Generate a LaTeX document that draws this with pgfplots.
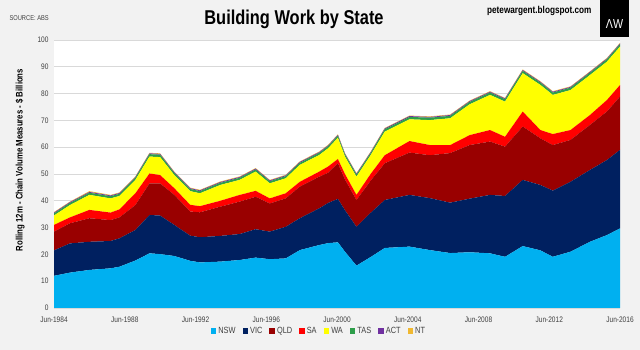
\documentclass[border=0pt]{standalone}
\usepackage{pgfplots}
\pgfplotsset{compat=1.18}
\usepackage{pgfplotstable}
\usepackage{fontspec}
\setmainfont{Liberation Sans}[FakeStretch=0.82]
\definecolor{bgc}{HTML}{F2F2F2}
\definecolor{nswc}{HTML}{00B0F0}
\definecolor{vicc}{HTML}{002060}
\definecolor{qldc}{HTML}{990000}
\definecolor{sac}{HTML}{FF0000}
\definecolor{wac}{HTML}{FFFF00}
\definecolor{tasc}{HTML}{2E9E4A}
\definecolor{actc}{HTML}{7030A0}
\definecolor{ntc}{HTML}{F0B830}
\definecolor{tickc}{HTML}{404040}
\pgfplotstableread{
year NSW VIC QLD SA WA TAS ACT NT
1984.5 12.0 9.5 7.0 2.5 3.5 0.8 0.3 0.2
1985.4 13.2 10.9 7.5 2.2 4.6 0.8 0.3 0.2
1986.5 14.2 10.5 8.8 3.1 5.6 0.8 0.3 0.3
1987.7 14.8 10.2 7.8 2.8 5.3 0.8 0.3 0.2
1988.2 15.4 10.6 7.8 3.0 5.0 0.8 0.3 0.2
1989.1 17.7 11.4 9.3 4.4 5.0 0.8 0.3 0.2
1989.9 20.4 14.3 11.8 3.7 6.3 0.9 0.3 0.2
1990.5 20.1 14.4 12.0 3.1 6.7 0.9 0.3 0.2
1991.3 19.4 11.6 11.2 2.5 4.9 0.8 0.3 0.2
1992.2 17.6 9.4 9.0 2.5 5.1 0.8 0.3 0.2
1992.75 17.0 9.4 9.3 2.3 4.8 0.8 0.3 0.2
1993.9 17.3 9.6 10.9 2.2 5.9 0.8 0.3 0.2
1995.0 17.9 9.7 12.1 2.5 5.6 0.8 0.3 0.2
1995.9 18.8 10.6 12.1 2.2 7.2 0.8 0.3 0.2
1996.7 18.2 10.3 10.5 1.9 5.6 0.8 0.3 0.2
1997.6 18.5 11.8 10.6 1.9 5.6 0.8 0.3 0.2
1998.4 21.6 11.9 11.8 1.8 6.3 0.8 0.3 0.2
1999.5 23.5 13.7 11.8 1.9 6.2 0.8 0.3 0.2
2000.0 24.2 15.0 11.3 2.3 6.8 0.8 0.3 0.2
2000.55 24.5 16.2 13.3 1.6 7.9 0.8 0.3 0.2
2000.95 21.0 15.5 11.5 2.0 6.5 0.8 0.3 0.2
2001.6 15.8 14.5 10.0 1.9 6.8 0.8 0.3 0.2
2002.4 19.0 16.5 12.0 2.5 7.0 0.8 0.3 0.2
2003.2 22.4 17.9 13.7 3.0 8.8 0.9 0.3 0.2
2004.6 22.9 19.3 15.8 4.3 8.1 0.9 0.3 0.2
2005.75 21.6 19.4 16.0 3.8 9.3 0.9 0.3 0.2
2006.9 20.5 18.8 18.5 3.0 10.0 0.9 0.3 0.2
2008.0 20.8 20.0 20.0 3.7 11.5 0.9 0.3 0.2
2009.15 20.4 21.8 19.9 4.3 13.1 0.9 0.3 0.2
2010.0 19.1 22.7 18.4 3.7 13.1 0.9 0.3 0.2
2011.0 23.1 24.7 19.9 5.6 14.3 0.9 0.3 0.2
2012.0 21.5 24.4 17.4 3.1 16.8 0.9 0.3 0.2
2012.7 19.1 24.7 17.0 4.1 14.6 0.9 0.3 0.2
2013.7 21.0 26.1 15.6 3.7 14.9 0.9 0.3 0.2
2014.8 24.7 26.8 16.8 3.7 14.9 0.9 0.3 0.2
2015.76 27.2 28.0 18.1 4.3 14.3 0.9 0.3 0.2
2016.5 29.7 29.3 19.9 4.3 14.3 0.9 0.3 0.2
}\data
\begin{document}
\begin{tikzpicture}[x=1pt,y=1pt]
\fill[bgc] (0,0) rectangle (640,350);
\begin{axis}[
  at={(54pt,42pt)}, anchor=south west,
  width=566pt, height=268pt, scale only axis,
  xmin=1984.5, xmax=2016.5, ymin=0, ymax=100,
  stack plots=y,
  axis background/.style={fill=white},
  axis line style={draw=none},
  tick style={draw=none},
  ymajorgrids, grid style={color=black!15, line width=0.6pt},
  ytick={0,10,...,100},
  xtick={1984.5,1988.5,1992.5,1996.5,2000.5,2004.5,2008.5,2012.5,2016.5},
  xticklabels={Jun-1984,Jun-1988,Jun-1992,Jun-1996,Jun-2000,Jun-2004,Jun-2008,Jun-2012,Jun-2016},
  /pgf/number format/assume math mode=true,
  tick label style={font=\fontsize{8}{9}\selectfont, text=tickc},
  yticklabel style={xshift=-2pt},
  xticklabel style={yshift=-5pt},
  legend columns=8,
  legend style={at={(0.468,-0.085)}, anchor=center, draw=none, fill=none,
    font=\fontsize{9}{10}\selectfont, text=tickc,
    /tikz/every even column/.append style={column sep=5pt}},
  legend image code/.code={\fill[#1,draw=none] (0pt,-2.8pt) rectangle (5.6pt,2.8pt);},
]
\addplot[fill=nswc, draw=none] table[x=year,y=NSW] {\data} \closedcycle;
\addplot[fill=vicc, draw=none] table[x=year,y=VIC] {\data} \closedcycle;
\addplot[fill=qldc, draw=none] table[x=year,y=QLD] {\data} \closedcycle;
\addplot[fill=sac, draw=none] table[x=year,y=SA] {\data} \closedcycle;
\addplot[fill=wac, draw=none] table[x=year,y=WA] {\data} \closedcycle;
\addplot[fill=tasc, draw=none] table[x=year,y=TAS] {\data} \closedcycle;
\addplot[fill=actc, draw=none] table[x=year,y=ACT] {\data} \closedcycle;
\addplot[fill=ntc, draw=none] table[x=year,y=NT] {\data} \closedcycle;
\legend{NSW,VIC,QLD,SA,WA,TAS,ACT,NT}
\end{axis}
\node[font=\bfseries\fontsize{20}{22}\selectfont] at (294,331) {Building Work by State};
\node[anchor=west, font=\fontsize{7}{8}\selectfont, text=tickc] at (6,332) {SOURCE: ABS};
\node[anchor=east, font=\bfseries\fontsize{10}{11}\selectfont] at (595,339) {petewargent.blogspot.com};
\fill[black] (600,313) rectangle (629,350);
\node[text=white, font=\fontsize{13}{14}\selectfont] at (614.5,326) {ΛW};
\node[rotate=90, font=\bfseries\fontsize{9.5}{10}\selectfont] at (20,190) {Rolling 12m - Chain Volume Measures - \$ Billions};
\end{tikzpicture}
\end{document}
